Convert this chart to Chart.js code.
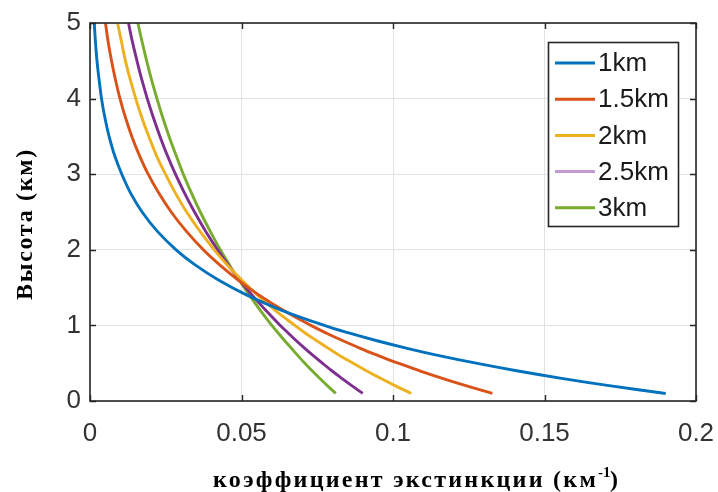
<!DOCTYPE html>
<html><head><meta charset="utf-8">
<script src="https://cdn.jsdelivr.net/npm/chart.js@4/dist/chart.umd.min.js"></script>
<style>html,body{margin:0;padding:0;background:#fff}#wrap{width:718px;height:492px;position:relative}</style>
</head><body><div id="wrap"><canvas id="c" width="718" height="492"></canvas></div>
<script>
// Heights (km) sampled along every curve
const heights = [0.1,0.2,0.3,0.4,0.5,0.6,0.7,0.8,0.9,1.0,1.2,1.4,1.6,1.8,2.0,2.25,2.5,2.75,3.0,3.25,3.5,3.75,4.0,4.25,4.5,4.75,5.0];
// Extinction coefficient (km^-1), one list per series
const k1km  = [0.1900,0.1719,0.1556,0.1408,0.1274,0.1152,0.1043,0.0944,0.0854,0.0773,0.0633,0.0518,0.0424,0.0347,0.0284,0.0221,0.0172,0.0134,0.0105,0.0081,0.0063,0.0049,0.0038,0.0030,0.0023,0.0018,0.0014];
const k15km = [0.1328,0.1243,0.1163,0.1088,0.1017,0.0952,0.0890,0.0833,0.0779,0.0729,0.0638,0.0558,0.0489,0.0428,0.0374,0.0317,0.0268,0.0227,0.0192,0.0163,0.0138,0.0117,0.0099,0.0084,0.0071,0.0060,0.0051];
const k2km  = [0.1060,0.1008,0.0959,0.0912,0.0868,0.0825,0.0785,0.0747,0.0710,0.0676,0.0611,0.0553,0.0501,0.0453,0.0410,0.0362,0.0319,0.0282,0.0249,0.0219,0.0194,0.0171,0.0151,0.0133,0.0117,0.0104,0.0091];
const k25km = [0.0900,0.0865,0.0831,0.0798,0.0767,0.0737,0.0708,0.0680,0.0654,0.0628,0.0580,0.0535,0.0494,0.0456,0.0421,0.0381,0.0345,0.0312,0.0282,0.0255,0.0231,0.0209,0.0189,0.0171,0.0155,0.0140,0.0127];
const k3km  = [0.0811,0.0784,0.0758,0.0733,0.0709,0.0686,0.0664,0.0642,0.0621,0.0600,0.0562,0.0526,0.0492,0.0460,0.0430,0.0396,0.0364,0.0335,0.0308,0.0284,0.0261,0.0240,0.0221,0.0203,0.0187,0.0172,0.0158];
const seriesLabels = ['1km','1.5km','2km','2.5km','3km'];
const xTickValues = [0,0.05,0.1,0.15,0.2];
const yTickValues = [0,1,2,3,4,5];
const xTitleMain = 'коэффициент экстинкции (км';
const xTitleSup = '-1';
const xTitleEnd = ')';
const yTitle = 'Высота (км)';

const seriesValues = [k1km,k15km,k2km,k25km,k3km];
const lineColors = ['#0072BD','#D95319','#EDB120','#7E2F8E','#77AC30'];
const legendColors = ['#0072BD','#D95319','#EDB120','#C39BD3','#77AC30'];

const datasets = seriesValues.map((vals,i)=>({
  label: seriesLabels[i],
  data: vals.map((v,j)=>({x:v, y:heights[j]})),
  borderColor: lineColors[i],
  backgroundColor: lineColors[i],
  borderWidth: 2.9,
  pointRadius: 0,
  showLine: true,
  fill: false,
  tension: 0.4
}));

const DARK = '#262626';

const framePlugin = {
  id: 'frame',
  afterDraw(chart){
    const ctx = chart.ctx, ca = chart.chartArea;
    const xs = chart.scales.x, ys = chart.scales.y;
    ctx.save();
    // axes box
    ctx.strokeStyle = DARK; ctx.lineWidth = 1.6;
    ctx.strokeRect(ca.left, ca.top, ca.right-ca.left, ca.bottom-ca.top);
    // inward ticks
    ctx.lineWidth = 1.4;
    const tl = 6;
    xTickValues.forEach(v=>{
      const px = Math.round(xs.getPixelForValue(v))+0.5;
      ctx.beginPath();
      ctx.moveTo(px, ca.bottom); ctx.lineTo(px, ca.bottom-tl);
      ctx.moveTo(px, ca.top); ctx.lineTo(px, ca.top+tl);
      ctx.stroke();
    });
    yTickValues.forEach(v=>{
      const py = Math.round(ys.getPixelForValue(v))+0.5;
      ctx.beginPath();
      ctx.moveTo(ca.left, py); ctx.lineTo(ca.left+tl, py);
      ctx.moveTo(ca.right, py); ctx.lineTo(ca.right-tl, py);
      ctx.stroke();
    });
    // legend
    const lx = 548, ly = 42, lw = 130, lh = 184;
    ctx.fillStyle = '#fff';
    ctx.fillRect(lx, ly, lw, lh);
    ctx.strokeStyle = DARK; ctx.lineWidth = 1.6;
    ctx.strokeRect(lx+0.5, ly+0.5, lw, lh);
    ctx.font = '26px "Liberation Sans", Arial, sans-serif';
    ctx.textBaseline = 'middle'; ctx.textAlign = 'left';
    chart.data.datasets.forEach((ds,i)=>{
      const y = 63 + i*36.2;
      ctx.strokeStyle = legendColors[i]; ctx.lineWidth = 3;
      ctx.beginPath(); ctx.moveTo(555, y); ctx.lineTo(595, y); ctx.stroke();
      ctx.fillStyle = '#1a1a1a';
      ctx.fillText(ds.label, 598, y+1);
    });
    // x title
    ctx.fillStyle = '#000';
    ctx.font = 'bold 24px "Liberation Serif", "Times New Roman", serif';
    ctx.textBaseline = 'alphabetic';
    const fitSpacing = (txt, target) => {
      ctx.letterSpacing = '0px';
      const w0 = ctx.measureText(txt).width;
      return Math.max(0, (target - w0) / txt.length);
    };
    const ls = fitSpacing(xTitleMain, 385);
    ctx.letterSpacing = ls + 'px';
    ctx.fillText(xTitleMain, 213, 487);
    ctx.letterSpacing = '0px';
    ctx.font = 'bold 15px "Liberation Serif", "Times New Roman", serif';
    ctx.fillText(xTitleSup, 598, 477);
    ctx.font = 'bold 24px "Liberation Serif", "Times New Roman", serif';
    ctx.fillText(xTitleEnd, 610, 487);
    // y title
    ctx.save();
    ctx.translate(32, 300);
    ctx.rotate(-Math.PI/2);
    const ls2 = fitSpacing(yTitle, 152);
    ctx.letterSpacing = ls2 + 'px';
    ctx.fillText(yTitle, 0, 0);
    ctx.restore();
    ctx.restore();
  }
};

new Chart(document.getElementById('c'), {
  type: 'scatter',
  data: { datasets },
  options: {
    responsive: false,
    animation: false,
    devicePixelRatio: 1,
    layout: { padding: { top: 23, right: 0, left: 0, bottom: 0 } },
    plugins: { legend: { display: false }, tooltip: { enabled: false } },
    scales: {
      x: {
        type: 'linear', min: 0, max: 0.2,
        afterBuildTicks: s => { s.ticks = xTickValues.map(v => ({ value: v })); },
        ticks: { font: { family: 'Liberation Sans', size: 26 }, color: '#333', padding: 17, maxRotation: 0, autoSkip: false, callback: v => String(v) },
        grid: { color: '#e2e2e2', lineWidth: 1, drawTicks: false },
        border: { display: false },
        afterFit: s => { s.height = 91; s.paddingRight = 22; s.paddingLeft = 0; }
      },
      y: {
        type: 'linear', min: 0, max: 5,
        afterBuildTicks: s => { s.ticks = yTickValues.map(v => ({ value: v })); },
        ticks: { font: { family: 'Liberation Sans', size: 26 }, color: '#333', padding: 9, autoSkip: false, callback: v => String(v) },
        grid: { color: '#e2e2e2', lineWidth: 1, drawTicks: false },
        border: { display: false },
        afterFit: s => { s.width = 90; s.paddingTop = 0; s.paddingBottom = 0; }
      }
    }
  },
  plugins: [framePlugin]
});
</script>
</body></html>
